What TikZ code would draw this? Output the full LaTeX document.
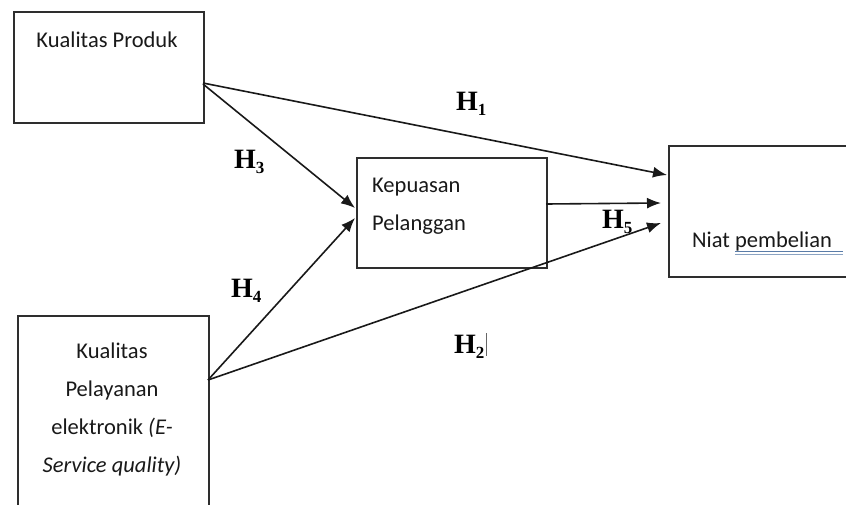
\documentclass[tikz,border=0pt]{standalone}
\usepackage{fontspec}
\setmainfont{Carlito}
\newfontfamily\hfont{Liberation Serif}
\usetikzlibrary{arrows.meta}
\definecolor{boxgray}{HTML}{2E2E2E}
\definecolor{wavyblue}{HTML}{5A7CA8}
\tikzset{
  boxnode/.style={draw=boxgray, line width=2.2pt, fill=white, anchor=north west, inner sep=0pt},
  txt/.style={font=\fontsize{22.5}{26}\selectfont, text=black!90, inner sep=0pt, anchor=base},
  arr/.style={draw=black!90, line width=1.6pt, -{Latex[length=14pt,width=11pt]}},
  hlab/.style={font=\fontsize{28}{32}\hfont\bfseries, inner sep=0pt, anchor=base west},
}
\newcommand{\hsub}[1]{\raisebox{-5pt}{\fontsize{17}{18}\selectfont #1}}
\begin{document}
\begin{tikzpicture}[x=1pt,y=-1pt]
\useasboundingbox (0,0) rectangle (846,504);
% boxes
\node[boxnode, minimum width=190pt, minimum height=111pt] (kp) at (13,11) {};
\node[boxnode, minimum width=190pt, minimum height=110pt] (kep) at (356,157) {};
\node[boxnode, minimum width=200pt, minimum height=131pt] (np) at (668,145) {};
\node[boxnode, minimum width=191pt, minimum height=200pt] (es) at (17,315) {};
% texts
\node[txt] (kpt) at (107,47) {Kualitas Produk};
\node[txt, anchor=base west] (kep1) at (372,192) {Kepuasan};
\node[txt, anchor=base west] (kep2) at (372,230) {Pelanggan};
\node[txt, anchor=base west] (npt) at (692,247) {Niat pembelian};
\node[txt] (es1) at (112,358) {Kualitas};
\node[txt] (es2) at (112,396) {Pelayanan};
\node[txt] (es3) at (112,434) {elektronik \textit{(E-}};
\node[txt] (es4) at (112,472) {\textit{Service quality)}};
% wavy underline (spell-check mark)
\coordinate (w1a) at (735,251);
\coordinate (w1b) at (843,251);
\coordinate (w2a) at (735,254.5);
\coordinate (w2b) at (843,254.5);
\draw[wavyblue, line width=1pt] (w1a) -- (w1b);
\draw[wavyblue!70, line width=1pt] (w2a) -- (w2b);
% connector end points
\coordinate (kpA) at (203,83);
\coordinate (kpB) at (203,84);
\coordinate (esA) at (208,380);
\coordinate (kepE) at (546,204);
\coordinate (npA) at (667,175);
\coordinate (npB) at (661,203);
\coordinate (npC) at (661,223);
\coordinate (kepA) at (355,208);
\coordinate (kepB) at (355,218);
% arrows
\draw[arr] (kpA) -- (npA);
\draw[arr] (kpB) -- (kepA);
\draw[arr] (esA) -- (kepB);
\draw[arr] (esA) -- (npC);
\draw[arr] (kepE) -- (npB);
% labels
\node[hlab] (h1) at (456,110) {H\hsub{1}};
\node[hlab] (h3) at (234,168) {H\hsub{3}};
\node[hlab] (h4) at (231,297) {H\hsub{4}};
\node[hlab] (h5) at (602,228) {H\hsub{5}};
\node[hlab] (h2) at (454,353) {H\hsub{2}};
\coordinate (cur1) at (486,333);
\coordinate (cur2) at (486,356);
\draw[black!60, line width=0.8pt] (cur1) -- (cur2);
\end{tikzpicture}
\end{document}
